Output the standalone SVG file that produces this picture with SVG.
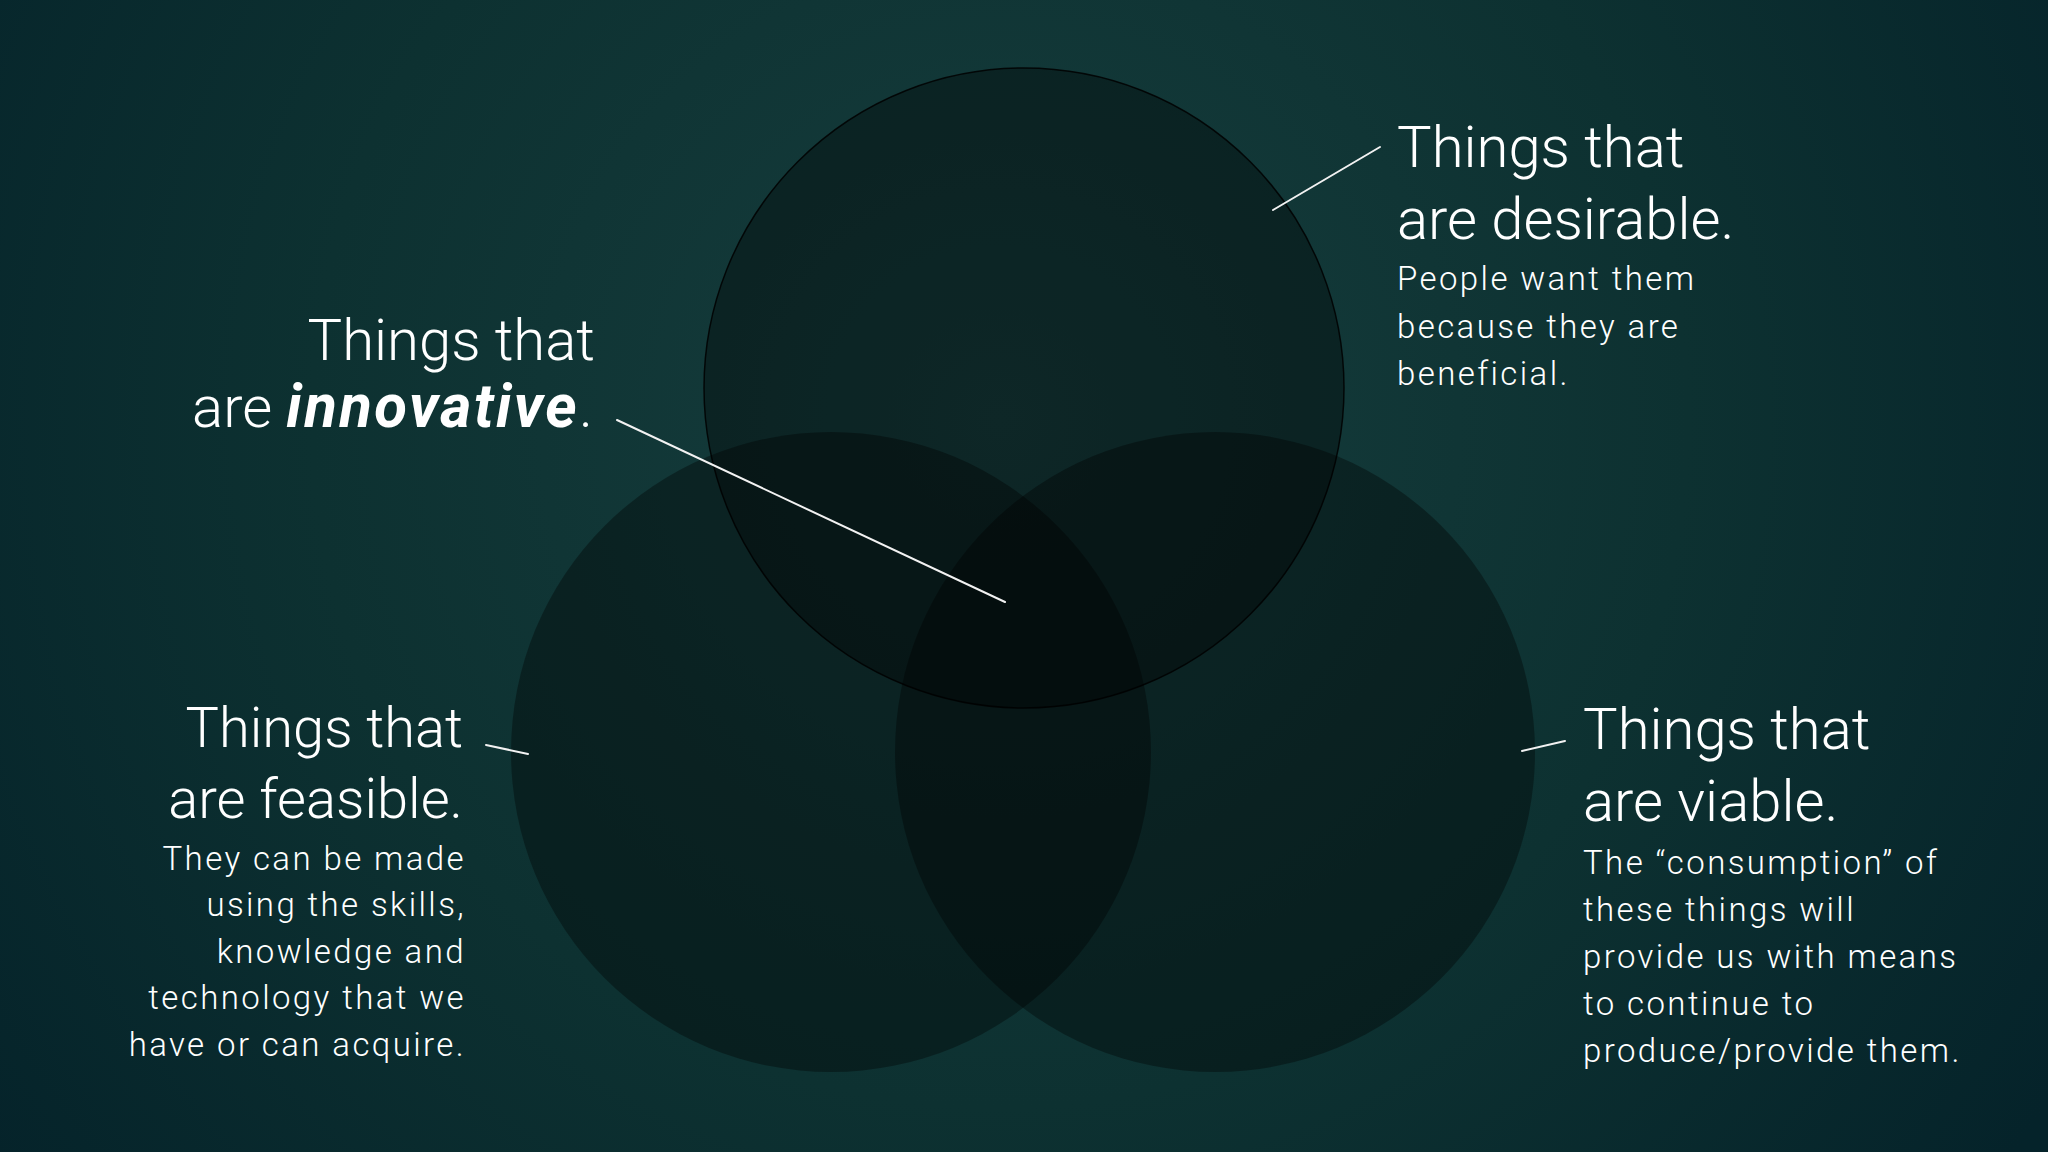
<svg xmlns="http://www.w3.org/2000/svg" width="2048" height="1152" viewBox="0 0 2048 1152">
  <defs>
    <radialGradient id="bg" cx="1000" cy="420" r="1250" gradientUnits="userSpaceOnUse">
      <stop offset="0" stop-color="#163d3d"/>
      <stop offset="0.55" stop-color="#0d3131"/>
      <stop offset="1" stop-color="#05232a"/>
    </radialGradient>
  </defs>
  <style>
    .circ { fill: #000; fill-opacity: 0.36; }
    .circ-top { fill: #000; fill-opacity: 0.36; stroke: #000; stroke-opacity: 0.85; stroke-width: 1.5; }
    .title { font-family: Roboto, "Liberation Sans", sans-serif; font-weight: 300; font-size: 58px; fill: #ffffff; }
    .title-s { font-size: 56px; }
    .body { font-family: Roboto, "Liberation Sans", sans-serif; font-weight: 300; font-size: 33px; letter-spacing: 2.4px; fill: #ffffff; }
    .em { font-weight: 700; font-style: italic; font-size: 60px; letter-spacing: 2.4px; }
    .lead { stroke: #f2f2f2; stroke-width: 2; fill: none; stroke-linecap: round; }
  </style>
  <rect x="0" y="0" width="2048" height="1152" fill="url(#bg)"/>

  <g id="node-feasible">
    <circle class="circ" cx="831" cy="752" r="320"/>
    <text class="title title-s" text-anchor="end" x="463" y="747">Things that</text>
    <text class="title title-s" text-anchor="end" x="463" y="818">are feasible.</text>
    <text class="body" text-anchor="end" x="466" y="870">They can be made</text>
    <text class="body" text-anchor="end" x="466" y="916">using the skills,</text>
    <text class="body" text-anchor="end" x="466" y="963">knowledge and</text>
    <text class="body" text-anchor="end" x="466" y="1009">technology that we</text>
    <text class="body" text-anchor="end" x="466" y="1056">have or can acquire.</text>
  </g>

  <g id="node-viable">
    <circle class="circ" cx="1215" cy="752" r="320"/>
    <text class="title" x="1583" y="749">Things that</text>
    <text class="title" x="1583" y="821">are viable.</text>
    <text class="body" x="1583" y="874">The “consumption” of</text>
    <text class="body" x="1583" y="921">these things will</text>
    <text class="body" x="1583" y="968">provide us with means</text>
    <text class="body" x="1583" y="1015">to continue to</text>
    <text class="body" x="1583" y="1062">produce/provide them.</text>
  </g>

  <g id="node-desirable">
    <circle class="circ-top" cx="1024" cy="388" r="320"/>
    <text class="title" x="1397" y="167">Things that</text>
    <text class="title" x="1397" y="239">are desirable.</text>
    <text class="body" x="1397" y="290">People want them</text>
    <text class="body" x="1397" y="338">because they are</text>
    <text class="body" x="1397" y="385">beneficial.</text>
  </g>

  <g id="node-innovative">
    <text class="title" text-anchor="end" x="595" y="360">Things that</text>
    <text class="title" text-anchor="end" x="593" y="427">are <tspan class="em">innovative</tspan>.</text>
  </g>

  <g id="connectors">
    <line class="lead" x1="1273" y1="210" x2="1380" y2="147"/>
    <line class="lead" x1="617" y1="420" x2="1005" y2="602"/>
    <line class="lead" x1="486" y1="745" x2="528" y2="754"/>
    <line class="lead" x1="1522" y1="751" x2="1565" y2="741"/>
  </g>
</svg>
